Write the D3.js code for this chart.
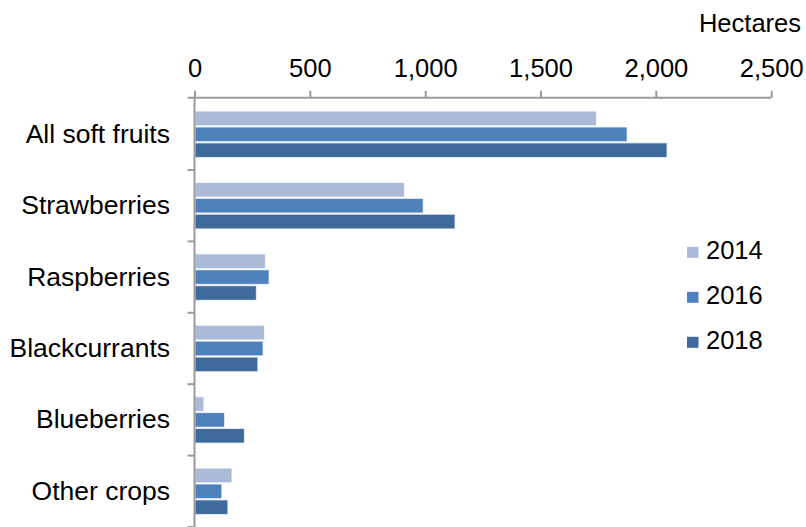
<!DOCTYPE html>
<html>
<head>
<meta charset="utf-8">
<script src="https://cdn.jsdelivr.net/npm/d3@7"></script>
<style>
  html, body { margin: 0; padding: 0; background: #fff; }
  svg { display: block; font-family: "Liberation Sans", Arial, sans-serif; }
</style>
</head>
<body>
<svg id="chart" width="806" height="527"></svg>
<script>
// Soft fruit area by crop, hectares
const categories = ["All soft fruits", "Strawberries", "Raspberries", "Blackcurrants", "Blueberries", "Other crops"];
const years = ["2014", "2016", "2018"];
const values2014 = [1740, 908, 305, 301, 38, 160];
const values2016 = [1873, 989, 321, 295, 128, 116];
const values2018 = [2046, 1127, 266, 272, 214, 142];
const tickValues = [0, 500, 1000, 1500, 2000, 2500];
const colors = ["#AABAD7", "#4F81BD", "#3F6A9C"];

const series = [values2014, values2016, values2018];
const rows = categories.map((c, i) => ({ cat: c, vals: years.map((y, j) => ({ year: y, v: series[j][i] })) }));

const svg = d3.select("#chart");
const fontSize = 25.5;
const catFontSize = 26.5;
const axisColor = "#9A9A9A";

const x = d3.scaleLinear().domain([0, 2500]).range([194.5, 771.2]);
const y0 = d3.scaleBand().domain(categories).range([98.6, 527]).paddingInner(0.366).paddingOuter(0.183);
const y1 = d3.scaleBand().domain(years).range([0, y0.bandwidth()]).paddingInner(0.15);

// bars
const groups = svg.append("g").selectAll("g").data(rows).join("g")
  .attr("transform", d => `translate(0,${y0(d.cat)})`);
groups.selectAll("rect").data(d => d.vals).join("rect")
  .attr("x", x(0) + 1)
  .attr("y", d => y1(d.year))
  .attr("width", d => x(d.v) - x(0) - 1)
  .attr("height", y1.bandwidth())
  .attr("fill", (d, i) => colors[i])
  .attr("stroke", (d, i) => colors[i])
  .attr("stroke-opacity", 0.25)
  .attr("stroke-width", 1.5);

// top value axis
const xAxis = svg.append("g").attr("transform", "translate(0,97.7)")
  .call(d3.axisTop(x).tickValues(tickValues).tickSize(7).tickPadding(14)
    .tickFormat(d3.format(",")));
xAxis.select(".domain").attr("stroke", axisColor).attr("stroke-width", 2)
  .attr("d", `M${x(0) - 7},0H${x(2500)}`);
xAxis.selectAll(".tick line").attr("stroke", axisColor).attr("stroke-width", 2);
xAxis.selectAll(".tick text").attr("fill", "#000").style("font-size", fontSize + "px")
  .style("font-family", "'Liberation Sans', Arial, sans-serif");

// left category axis
const yAxisG = svg.append("g");
yAxisG.append("line")
  .attr("x1", x(0)).attr("x2", x(0))
  .attr("y1", 97.7).attr("y2", 527)
  .attr("stroke", axisColor).attr("stroke-width", 2);
const bounds = categories.map(c => y0(c) - y0.step() * y0.paddingInner() / 2).concat([y0.range()[1]]);
yAxisG.selectAll("line.cat-tick").data(bounds.slice(1)).join("line")
  .attr("class", "cat-tick")
  .attr("x1", x(0) - 7).attr("x2", x(0))
  .attr("y1", d => d).attr("y2", d => d)
  .attr("stroke", axisColor).attr("stroke-width", 2);
yAxisG.selectAll("text").data(categories).join("text")
  .attr("x", 170)
  .attr("y", d => y0(d) + y0.bandwidth() / 2 + 8.5)
  .attr("text-anchor", "end")
  .style("font-size", catFontSize + "px")
  .text(d => d);

// unit label
svg.append("text")
  .attr("x", 801).attr("y", 32.3)
  .attr("text-anchor", "end")
  .style("font-size", fontSize + "px")
  .text("Hectares");

// legend
const legend = svg.append("g").selectAll("g").data(years).join("g")
  .attr("transform", (d, i) => `translate(687,${259.3 + i * 45})`);
legend.append("rect")
  .attr("x", 0).attr("y", -12.5).attr("width", 11.5).attr("height", 11)
  .attr("fill", (d, i) => colors[i]);
legend.append("text")
  .attr("x", 19).attr("y", 0)
  .style("font-size", fontSize + "px")
  .text(d => d);
</script>
</body>
</html>
